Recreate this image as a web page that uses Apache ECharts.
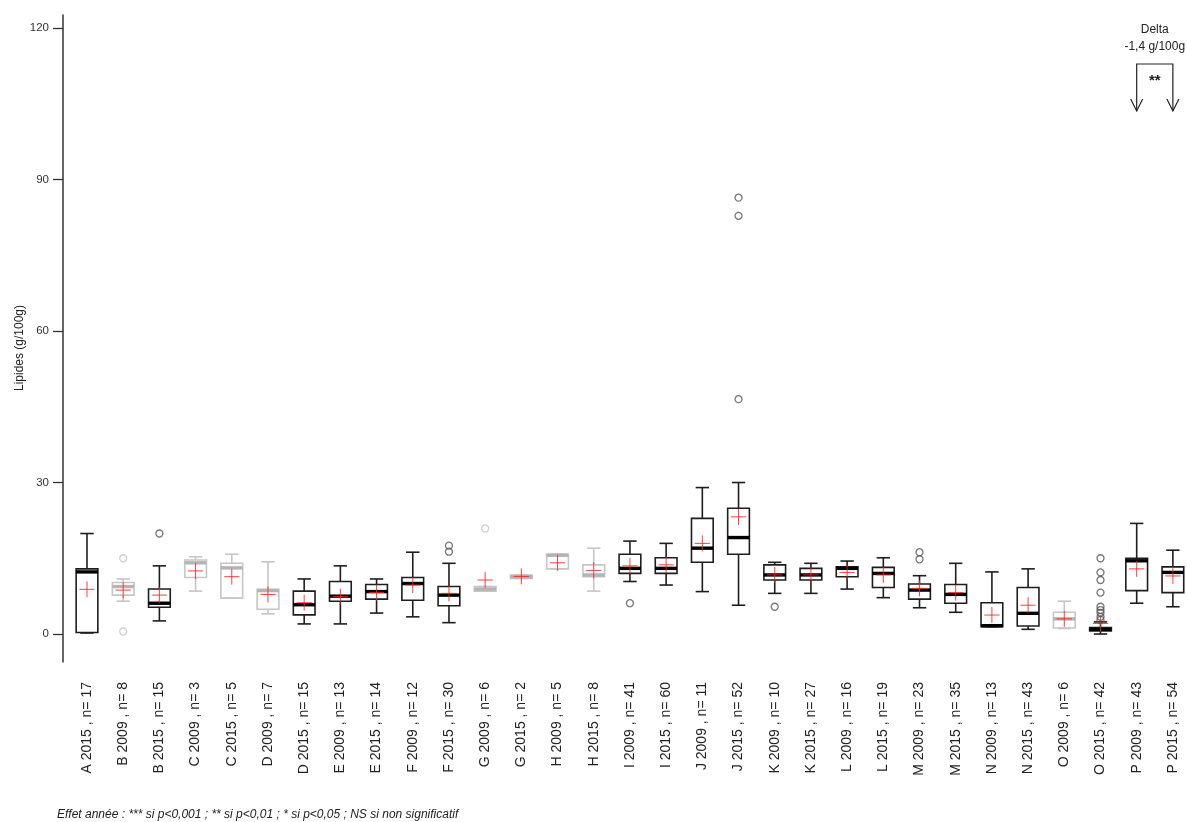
<!DOCTYPE html>
<html><head><meta charset="utf-8">
<script src="https://cdn.jsdelivr.net/npm/echarts@6/dist/echarts.min.js"></script>
<style>html,body{margin:0;padding:0;background:#fff}#c{width:1187px;height:822px}</style>
</head><body><div id="c"></div>
<script>
// ---- data ----
const groups = ['A','B','B','C','C','D','D','E','E','F','F','G','G','H','H','I','I','J','J','K','K','L','L','M','M','N','N','O','O','P','P'];
const years  = [2015,2009,2015,2009,2015,2009,2015,2009,2015,2009,2015,2009,2015,2009,2015,2009,2015,2009,2015,2009,2015,2009,2015,2009,2015,2009,2015,2009,2015,2009,2015];
const counts = [17,8,15,3,5,7,15,13,14,12,30,6,2,5,8,41,60,11,52,10,27,16,19,23,35,13,43,6,42,43,54];
// 1 = drawn in light grey in the reference
const faded  = [0,1,0,1,1,1,0,0,0,0,0,1,1,1,1,0,0,0,0,0,0,0,0,0,0,0,0,1,0,0,0];
const whiskerLow  = [0.2,6.5,2.6,8.5,7.1,4.0,2.0,2.0,4.15,3.4,2.25,8.5,11.0,12.9,8.5,10.4,9.7,8.4,5.7,8.05,8.05,8.9,7.2,5.2,4.3,1.45,0.93,1.1,0.0,6.1,5.4];
const quart1      = [0.3,7.7,5.3,11.2,7.1,4.9,3.8,6.5,6.9,6.7,5.6,8.5,11.0,12.9,11.35,12.0,12.0,14.2,15.8,10.7,10.7,11.35,9.2,6.9,6.1,1.45,1.6,1.2,0.6,8.6,8.2];
const medians     = [12.3,9.4,6.1,14.1,13.1,8.6,5.8,7.5,8.4,10.0,7.7,8.9,11.35,15.6,11.7,13.0,13.0,17.0,19.1,11.7,11.7,13.0,12.0,8.7,7.85,1.65,4.1,3.0,0.93,14.5,12.2];
const quart3      = [12.9,10.2,8.9,14.65,14.0,8.85,8.5,10.4,9.8,11.2,9.4,9.4,11.7,15.8,13.7,15.8,15.1,22.9,24.9,13.7,13.0,13.3,13.2,9.9,9.8,6.2,9.2,4.3,1.3,15.0,13.3];
const whiskerHigh = [19.9,10.9,13.5,15.3,15.8,14.3,10.9,13.5,10.9,16.2,14.0,9.4,11.7,15.8,17.0,18.4,17.95,29.0,30.0,14.2,14.0,14.45,15.1,11.55,14.0,12.3,12.9,6.5,2.4,21.9,16.6];
const means       = [8.85,8.7,7.7,12.5,11.35,7.85,6.2,7.4,8.2,9.7,8.05,10.7,11.4,14.1,12.6,13.5,13.7,17.95,23.2,11.7,11.7,12.2,11.7,9.05,8.2,3.76,5.7,3.0,2.1,12.9,11.5];
const outliers = [
  [1,15.0],[1,0.5],[2,19.9],[10,16.3],[10,17.5],[11,20.9],[15,6.1],
  [18,46.5],[18,82.8],[18,86.4],[19,5.4],[23,14.8],[23,16.2],
  [28,15.0],[28,12.2],[28,10.7],[28,8.2],[28,5.4],[28,4.75],[28,4.2],[28,3.4],[28,2.8]
];
const yTicks = [0,30,60,90,120];
const yTitle = 'Lipides (g/100g)';
const footnote = 'Effet année : *** si p<0,001 ; ** si p<0,01 ; * si p<0,05 ; NS si non significatif';
const deltaTitle = 'Delta';
const deltaValue = '-1,4 g/100g';
const deltaSig = '**';
const deltaPair = [29, 30];

// ---- build ----
const categories = groups.map((g, i) => g + ' ' + years[i] + ' , n= ' + counts[i]);
const boxData = categories.map((_, i) => [i, whiskerLow[i], quart1[i], medians[i], quart3[i], whiskerHigh[i], means[i], faded[i]]);
const tickIdx = categories.map((_, i) => i);

function renderBox(params, api) {
  const i = api.value(0);
  const lo = api.value(1), q1 = api.value(2), md = api.value(3), q3 = api.value(4), hi = api.value(5), mn = api.value(6), f = api.value(7);
  const band = api.size([1, 0])[0];
  const bw = band * 0.6, cw = band * 0.37, mw = band * 0.42;
  const col = f ? '#c6c6c6' : '#1e1e1e';
  const cx = api.coord([i, 0])[0];
  const y = v => api.coord([i, v])[1];
  const L = (x1, y1, x2, y2, st) => ({ type: 'line', shape: { x1, y1, x2, y2 }, style: st });
  const s = { stroke: col, lineWidth: 1.6 };
  const red = { stroke: 'rgba(255,30,30,0.85)', lineWidth: 1 };
  return {
    type: 'group',
    children: [
      L(cx, y(hi), cx, y(q3), s),
      L(cx, y(q1), cx, y(lo), s),
      L(cx - cw / 2, y(hi), cx + cw / 2, y(hi), s),
      L(cx - cw / 2, y(lo), cx + cw / 2, y(lo), s),
      { type: 'rect', shape: { x: cx - bw / 2, y: y(q3), width: bw, height: y(q1) - y(q3) }, style: { stroke: col, fill: 'transparent', lineWidth: 1.6 } },
      L(cx - bw / 2, y(md), cx + bw / 2, y(md), { stroke: f ? '#b4b4b4' : '#000', lineWidth: 3.4 }),
      L(cx - mw / 2, y(mn), cx + mw / 2, y(mn), red),
      L(cx, y(mn) - 8, cx, y(mn) + 8, red)
    ]
  };
}

function renderDelta(params, api) {
  const xa = api.coord([api.value(0), 0])[0];
  const xb = api.coord([api.value(1), 0])[0];
  const top = params.coordSys.y;
  const xm = (xa + xb) / 2;
  const yl = top + 49, tip = top + 96;
  const st = { stroke: '#222', lineWidth: 1.2, fill: null };
  const txt = (t, yy, bold, size) => ({ type: 'text', x: xm, y: yy, style: { text: t, align: 'center', verticalAlign: 'middle', fill: '#222', font: (bold ? 'bold ' : '') + size + 'px "Liberation Sans", Arial, sans-serif' } });
  return {
    type: 'group',
    children: [
      txt(deltaTitle, top + 15, false, 12),
      txt(deltaValue, top + 32, false, 12),
      { type: 'polyline', shape: { points: [[xa, tip], [xa, yl], [xb, yl], [xb, tip]] }, style: st },
      { type: 'polyline', shape: { points: [[xa - 6, tip - 12], [xa, tip], [xa + 6, tip - 12]] }, style: st },
      { type: 'polyline', shape: { points: [[xb - 6, tip - 12], [xb, tip], [xb + 6, tip - 12]] }, style: st },
      txt(deltaSig, top + 66, true, 15)
    ]
  };
}

const chart = echarts.init(document.getElementById('c'), null, { renderer: 'canvas' });
chart.setOption({
  animation: false,
  backgroundColor: '#fff',
  textStyle: { fontFamily: '"Liberation Sans", Arial, sans-serif' },
  grid: { left: 63, right: 0, top: 15, bottom: 160, containLabel: false },
  xAxis: {
    type: 'value', min: -0.663, max: 30.39,
    axisLine: { show: false, onZero: false }, axisTick: { show: false }, splitLine: { show: false },
    axisLabel: {
      customValues: tickIdx, rotate: 90, margin: 20, fontSize: 14, color: '#222',
      formatter: v => categories[Math.round(v)] || ''
    }
  },
  yAxis: {
    type: 'value', min: -5.54, max: 122.57,
    axisLine: { show: true, onZero: false, lineStyle: { color: '#333', width: 1.5 } },
    axisTick: { show: true, length: 10, customValues: yTicks, lineStyle: { color: '#333', width: 1.3 } },
    axisLabel: { customValues: yTicks, margin: 14, fontSize: 11.5, color: '#333' },
    splitLine: { show: false }
  },
  series: [
    { type: 'custom', renderItem: renderBox, data: boxData, encode: { x: 0, y: [1, 5] }, z: 2 },
    {
      type: 'scatter', symbol: 'circle', symbolSize: 7, z: 3,
      data: outliers.map(([i, v]) => ({ value: [i, v], itemStyle: { color: 'transparent', borderColor: faded[i] ? '#c6c6c6' : '#555', borderWidth: 1.3 } }))
    },
    { type: 'custom', renderItem: renderDelta, data: [deltaPair], encode: { x: [0, 1] }, z: 4 }
  ],
  graphic: [
    { type: 'text', x: 20, y: 348, rotation: Math.PI / 2, style: { text: yTitle, align: 'center', verticalAlign: 'middle', fill: '#222', font: '12px "Liberation Sans", Arial, sans-serif' } },
    { type: 'text', left: 57, top: 809, style: { text: footnote, fill: '#222', font: 'italic 12px "Liberation Sans", Arial, sans-serif' } }
  ]
});
</script>
</body></html>
